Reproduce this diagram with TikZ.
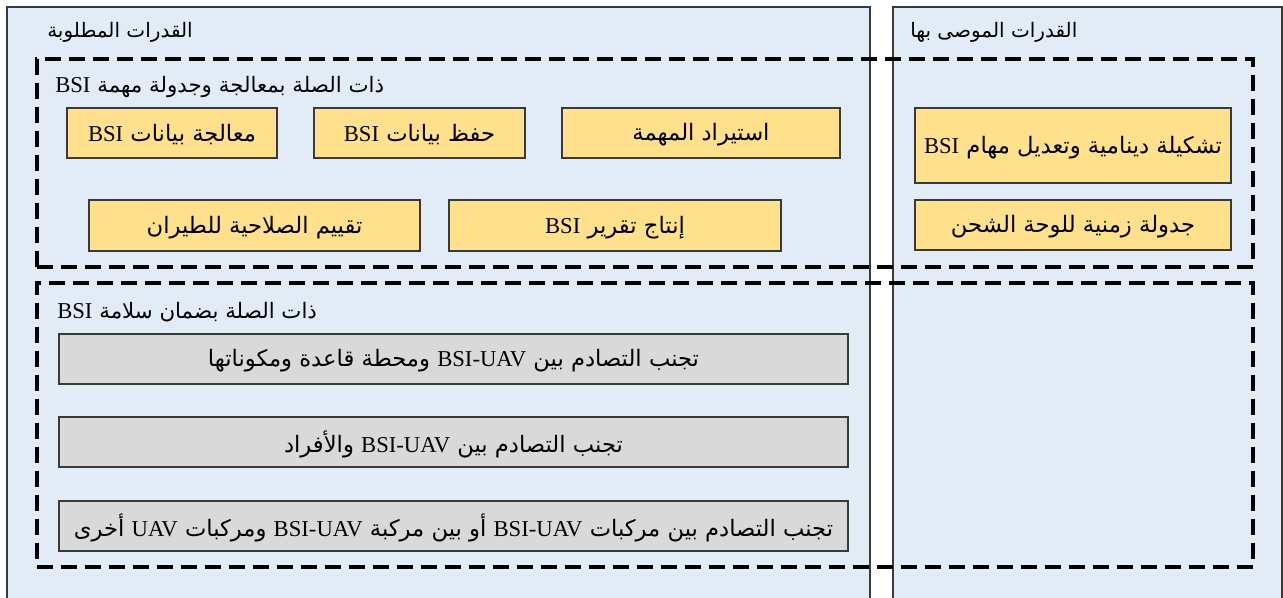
\documentclass[tikz,border=0pt]{standalone}
\usepackage{fontspec}
\setmainfont{Liberation Serif}
\newfontfamily\arabicfont[Script=Arabic]{DejaVu Sans}
\TeXXeTstate=1
\usetikzlibrary{fit}
\definecolor{panelfill}{HTML}{E2ECF7}
\definecolor{yfill}{HTML}{FFE08C}
\definecolor{gfill}{HTML}{D9D9D9}
\definecolor{edgecol}{HTML}{3A3A3A}
\newcommand\artxt[1]{{\arabicfont\beginR #1\endR}}
\newcommand\lat[1]{{\rmfamily\fontsize{17}{19}\selectfont\beginL #1\endL}}
\begin{document}
\begin{tikzpicture}[x=0.75pt,y=-0.75pt,
  panel/.style={fill=panelfill,draw=edgecol,line width=0.8pt,inner sep=0pt},
  dbox/.style={draw=black,line width=2.6pt,dash pattern=on 12pt off 6pt,inner sep=0pt},
  ybox/.style={fill=yfill,draw=edgecol,line width=0.9pt,inner sep=0pt},
  gbox/.style={fill=gfill,draw=edgecol,line width=0.9pt,inner sep=0pt},
  btxt/.style={inner sep=0pt,yshift=-1.5pt,font=\fontsize{17}{20}\selectfont},
  ttl/.style={anchor=west,inner sep=0pt,font=\fontsize{16}{19}\selectfont}]
\useasboundingbox (0,0) rectangle (1283,598);
\clip (0,0) rectangle (1283,598);
% panels
\node[panel, fit={(7,7) (870,620)}] (left) {};
\node[panel, fit={(893,7) (1282,620)}] (right) {};
\node[ttl,font=\fontsize{15}{18}\selectfont] (tL) at (47,32) {\artxt{القدرات المطلوبة}};
\node[ttl,font=\fontsize{15}{18}\selectfont] (tR) at (910,32) {\artxt{القدرات الموصى بها}};
% upper group
\node[ttl] (t1) at (55,87) {\artxt{ذات الصلة بمعالجة وجدولة مهمة \lat{BSI}}};
\node[ybox, fit={(67,108) (277,158)}] (y1) {};
\node[ybox, fit={(314,108) (525,158)}] (y2) {};
\node[ybox, fit={(562,108) (840,158)}] (y3) {};
\node[ybox, fit={(89,200) (420,251)}] (y4) {};
\node[ybox, fit={(449,200) (781,251)}] (y5) {};
\node[ybox, fit={(915,108) (1231,183)}] (y6) {};
\node[ybox, fit={(915,200) (1231,250)}] (y7) {};
\node[btxt] (y1t) at (y1.center) {\artxt{معالجة بيانات \lat{BSI}}};
\node[btxt] (y2t) at (y2.center) {\artxt{حفظ بيانات \lat{BSI}}};
\node[btxt] (y3t) at (y3.center) {\artxt{استيراد المهمة}};
\node[btxt] (y4t) at (y4.center) {\artxt{تقييم الصلاحية للطيران}};
\node[btxt] (y5t) at (y5.center) {\artxt{إنتاج تقرير \lat{BSI}}};
\node[btxt] (y6t) at (y6.center) {\artxt{تشكيلة دينامية وتعديل مهام \lat{BSI}}};
\node[btxt] (y7t) at (y7.center) {\artxt{جدولة زمنية للوحة الشحن}};
% lower group
\node[ttl] (t2) at (57,312) {\artxt{ذات الصلة بضمان سلامة \lat{BSI}}};
\node[gbox, fit={(59,334) (848,384)}] (g1) {};
\node[gbox, fit={(59,417) (848,467)}] (g2) {};
\node[gbox, fit={(59,501) (848,551)}] (g3) {};
\node[btxt] (g1t) at (g1.center) {\artxt{تجنب التصادم بين \lat{BSI-UAV} ومحطة قاعدة ومكوناتها}};
\node[btxt] (g2t) at (g2.center) {\artxt{تجنب التصادم بين \lat{BSI-UAV} والأفراد}};
\node[btxt] (g3t) at (g3.center) {\artxt{تجنب التصادم بين مركبات \lat{BSI-UAV} أو بين مركبة \lat{BSI-UAV} ومركبات \lat{UAV} أخرى}};
% dashed groups
\node[dbox, fit={(37,59) (1253,267)}] (grp1) {};
\node[dbox, fit={(37,283) (1253,567)}] (grp2) {};
\end{tikzpicture}
\end{document}
